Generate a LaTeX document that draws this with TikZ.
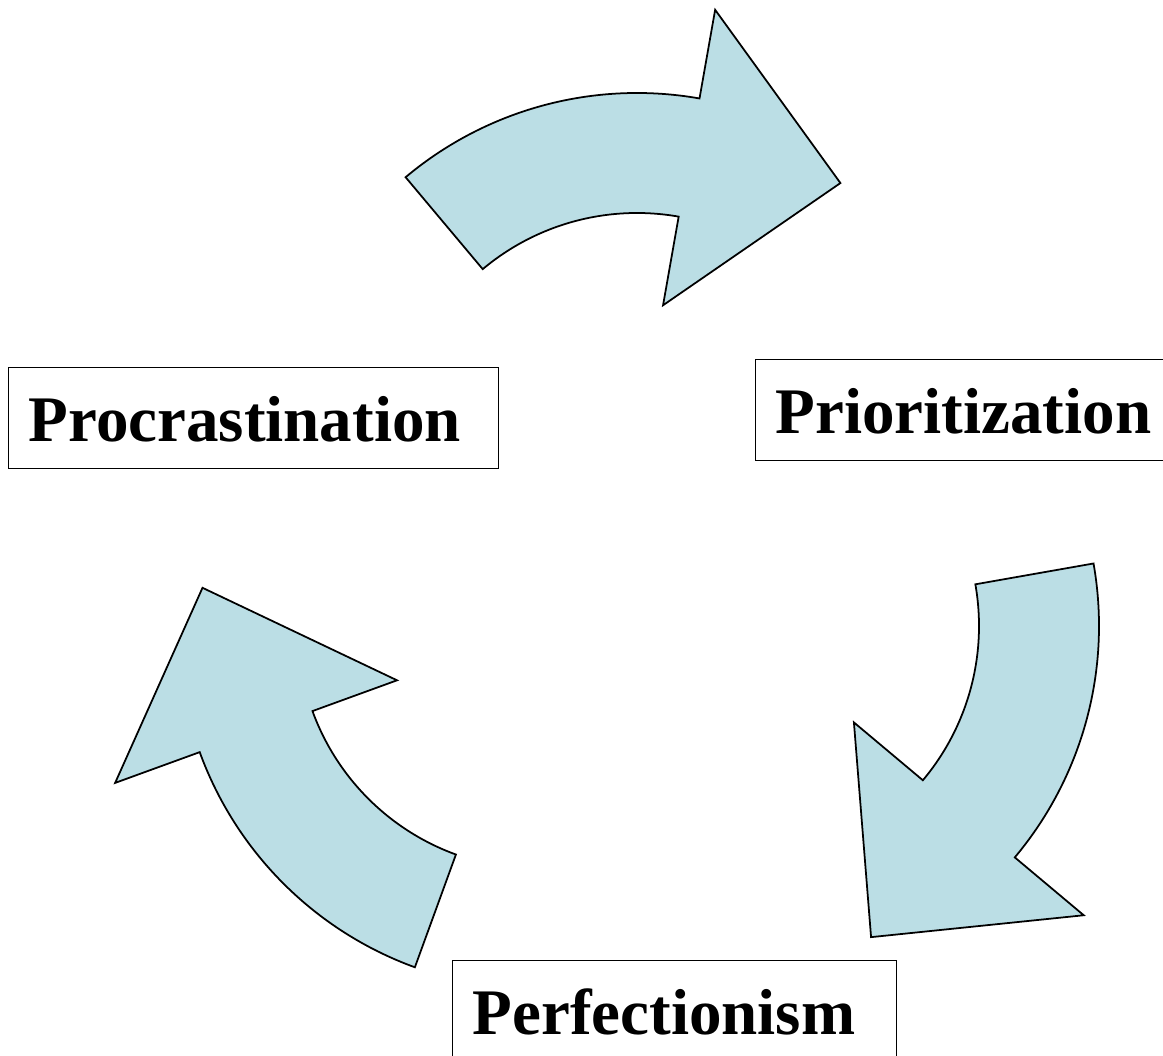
\documentclass[tikz,border=0pt]{standalone}
\usepackage{fontspec}
\setmainfont{Liberation Serif}
\definecolor{arrowblue}{RGB}{187,222,229}
\begin{document}
\begin{tikzpicture}[x=0.02cm,y=0.02cm,
    cyclearrow/.style={draw=black,fill=arrowblue,line width=1pt,line join=miter},
    wordbox/.style={draw=black,line width=0.8pt,anchor=north west,align=left,
      font=\bfseries\fontsize{37}{44}\selectfont,
      inner xsep=0.4cm,inner ysep=0.2cm,text height=1.28cm,text depth=0.34cm}]
  \useasboundingbox (0,0) rectangle (1163,1055);
  \clip (0,0) rectangle (1163,1055);
  % one bent arrow, turned about its own centre
  \def\bentarrow{(130:360) arc[start angle=130,end angle=80,radius=360]
      -- (80:450) -- (53:338) -- (80:150) -- (80:240)
      arc[start angle=80,end angle=130,radius=240] -- cycle}
      \draw[cyclearrow,shift={(637,602)}] \bentarrow;
      \draw[cyclearrow,shift={(739,429)},rotate=-120] \bentarrow;
      \draw[cyclearrow,shift={(538,426)},rotate=120] \bentarrow;
      \node[wordbox,text width=9cm] (procr) at (8,688) {Procrastination};
      \node[wordbox,text width=7.8cm] (prior) at (755,696) {Prioritization};
      \node[wordbox,text width=8.08cm] (perfect) at (452,95) {Perfectionism};
  \end{tikzpicture}
\end{document}
